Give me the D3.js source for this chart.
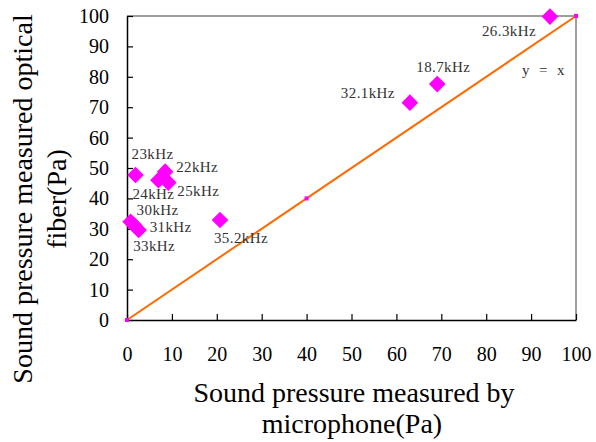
<!DOCTYPE html>
<html lang="en">
<head>
  <meta charset="utf-8" />
  <title>Sound pressure comparison</title>
  <style>
    body { margin: 0; padding: 0; background: #fff; }
    .tick text { font-family: "Liberation Serif", serif; font-size: 20px; fill: #000; }
    .lbl { font-family: "Liberation Serif", serif; font-size: 15px; fill: #333; letter-spacing: 0.4px; }
    .title { font-family: "Liberation Serif", serif; font-size: 28px; fill: #000; }
  </style>
  <script src="https://d3js.org/d3.v7.min.js"></script>
</head>
<body>
  <svg width="596" height="442"></svg>
  <script>
    // measured points (microphone vs optical fiber)
    const labels = ["23kHz", "22kHz", "24kHz", "25kHz", "30kHz", "31kHz", "33kHz", "35.2kHz", "32.1kHz", "18.7kHz", "26.3kHz"];
    const micValues = [1.9, 8.5, 7.0, 9.2, 0.8, 2.6, 1.6, 20.7, 63.0, 69.1, 94.2];
    const fiberValues = [47.7, 48.8, 46.0, 45.2, 32.3, 29.6, 31.2, 32.9, 71.5, 77.6, 99.8];
    // label anchor offsets in px relative to the point (dx, dy)
    const labelOffsets = [[-4, -16], [11, 0], [-26, 19], [9, 13], [6, -7], [11, 2], [-1, 26], [-6, 23], [-69, -5], [-21, -12], [-68, 19]];

    // y = x reference line points
    const refX = [0, 40, 100];
    const refY = [0, 40, 100];

    const ticks = [0, 10, 20, 30, 40, 50, 60, 70, 80, 90, 100];

    const svg = d3.select("svg");
    const x = d3.scaleLinear().domain([0, 100]).range([127, 576]);
    const y = d3.scaleLinear().domain([0, 100]).range([320, 16]);

    // frame (top/right in gray)
    svg.append("path")
      .attr("d", `M${x(0)},${y(100)}H${x(100)}V${y(0)}`)
      .attr("fill", "none").attr("stroke", "#808080").attr("stroke-width", 1.5);

    const xAxis = svg.append("g")
      .attr("transform", `translate(0,${y(0)})`)
      .call(d3.axisBottom(x).tickValues(ticks).tickSizeInner(-6).tickSizeOuter(0).tickPadding(27));
    const yAxis = svg.append("g")
      .attr("transform", `translate(${x(0)},0)`)
      .call(d3.axisLeft(y).tickValues(ticks).tickSizeInner(-6).tickSizeOuter(0).tickPadding(18));
    [xAxis, yAxis].forEach(a => {
      a.select(".domain").attr("stroke", "#000").attr("stroke-width", 1.5);
      a.selectAll(".tick line").attr("stroke", "#000").attr("stroke-width", 1.2);
    });

    // y = x line
    const refData = refX.map((v, i) => [v, refY[i]]);
    svg.append("path")
      .datum(refData)
      .attr("d", d3.line().x(d => x(d[0])).y(d => y(d[1])))
      .attr("fill", "none").attr("stroke", "#ff6a00").attr("stroke-width", 2);
    svg.append("g").selectAll("rect")
      .data(refData)
      .join("rect")
      .attr("x", d => x(d[0]) - 2).attr("y", d => y(d[1]) - 2)
      .attr("width", 4).attr("height", 4)
      .attr("fill", "#ff00ff");

    // diamonds
    const pts = labels.map((l, i) => ({ label: l, mx: micValues[i], fy: fiberValues[i], off: labelOffsets[i] }));
    svg.append("g").selectAll("path")
      .data(pts)
      .join("path")
      .attr("transform", d => `translate(${x(d.mx)},${y(d.fy)})`)
      .attr("d", "M0,-8.3L8.3,0L0,8.3L-8.3,0Z")
      .attr("fill", "#ff00ff");

    svg.append("g").selectAll("text")
      .data(pts)
      .join("text")
      .attr("class", "lbl")
      .attr("x", d => x(d.mx) + d.off[0])
      .attr("y", d => y(d.fy) + d.off[1])
      .text(d => d.label);

    svg.append("text").attr("class", "lbl")
      .attr("x", 522).attr("y", 75)
      .style("word-spacing", "5px")
      .text("y = x");

    // axis titles
    svg.append("text").attr("class", "title").attr("text-anchor", "middle")
      .attr("x", 354).attr("y", 402).text("Sound pressure measured by");
    svg.append("text").attr("class", "title").attr("text-anchor", "middle")
      .attr("x", 352).attr("y", 433).text("microphone(Pa)");
    const yt = svg.append("text").attr("class", "title").attr("text-anchor", "middle")
      .attr("transform", "translate(0,199) rotate(-90)");
    yt.append("tspan").attr("x", 0).attr("y", 32).text("Sound pressure measured optical");
    yt.append("tspan").attr("x", 0).attr("y", 66).text("fiber(Pa)");
  </script>
</body>
</html>
